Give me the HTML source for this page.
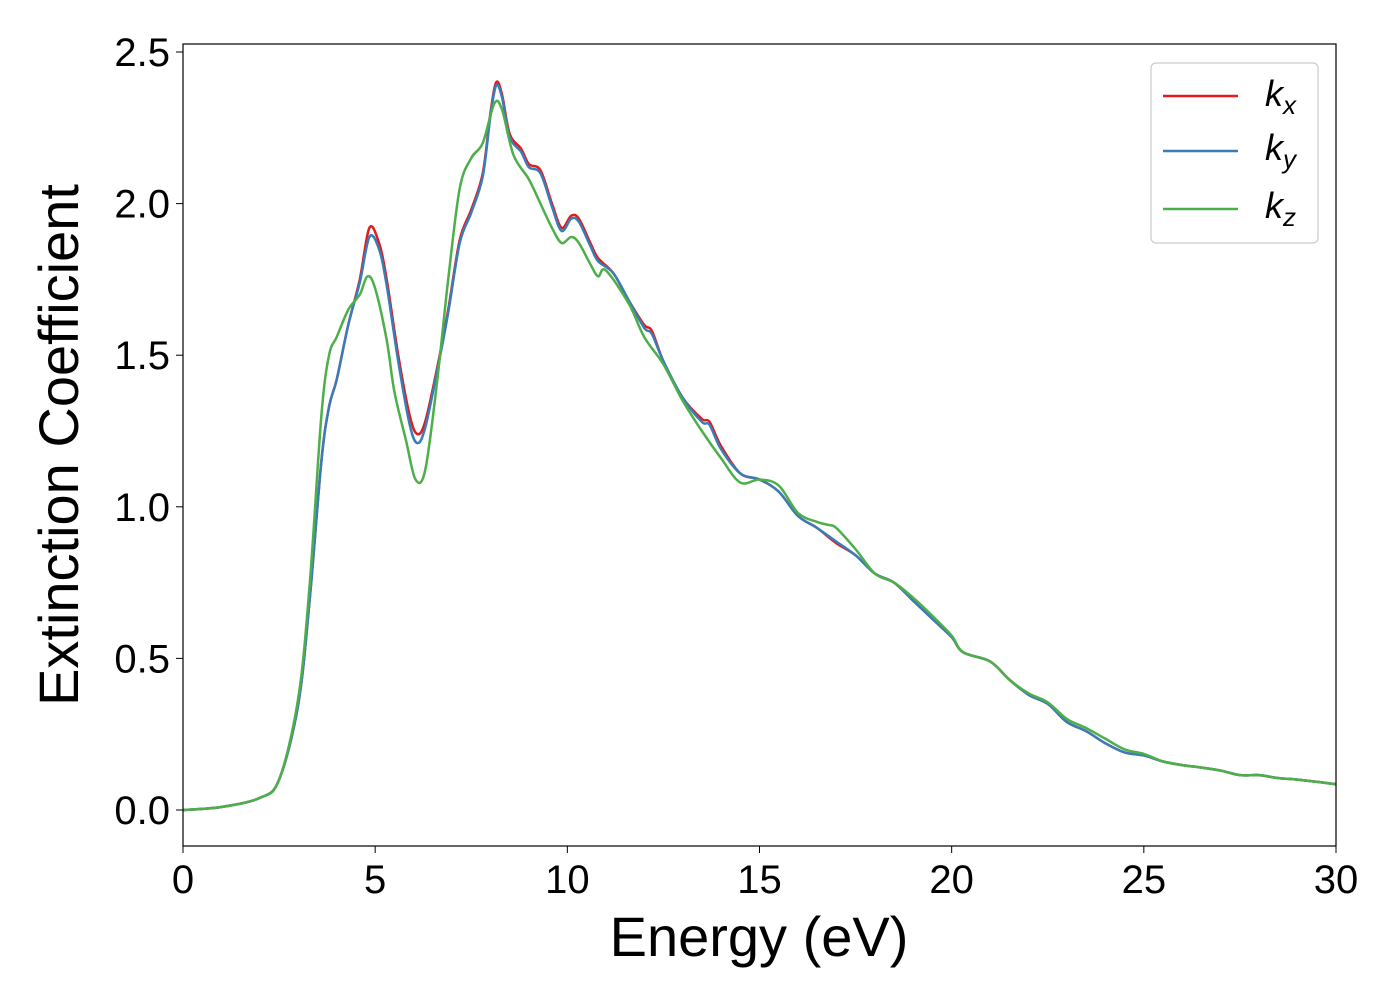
<!DOCTYPE html>
<html><head><meta charset="utf-8"><style>
body{margin:0;background:#fff;}
svg text{font-family:"Liberation Sans","DejaVu Sans",sans-serif;fill:#000;}
</style></head><body>
<svg id="chart" width="1400" height="1000" xmlns="http://www.w3.org/2000/svg">
<rect x="0" y="0" width="1400" height="1000" fill="#fff"/>
<g id="plot"></g>
<rect x="183" y="44" width="1153" height="802" fill="none" stroke="#000" stroke-width="1.2"/>
<g id="xticks"></g><g id="yticks"></g>
<text x="759" y="956" font-size="56" text-anchor="middle">Energy (eV)</text>
<text transform="translate(78,445) rotate(-90)" font-size="56" text-anchor="middle">Extinction Coefficient</text>
<g>
<rect x="1151" y="63" width="167" height="180" rx="5" fill="#fff" stroke="#ccc" stroke-width="1.2"/>
<line x1="1163" x2="1238" y1="96" y2="96" stroke="#e41a1c" stroke-width="2.5"/>
<line x1="1163" x2="1238" y1="151" y2="151" stroke="#377eb8" stroke-width="2.5"/>
<line x1="1163" x2="1238" y1="209" y2="209" stroke="#4daf4a" stroke-width="2.5"/>
<text x="1265" y="106" font-size="36" font-style="italic">k<tspan font-size="26" dy="8">x</tspan></text>
<text x="1265" y="160" font-size="36" font-style="italic">k<tspan font-size="26" dy="8">y</tspan></text>
<text x="1265" y="218" font-size="36" font-style="italic">k<tspan font-size="26" dy="8">z</tspan></text>
</g>
</svg>
<script>
const xTicks=[0,5,10,15,20,25,30];
const yTicks=[0.0,0.5,1.0,1.5,2.0,2.5];
const kxE=[0,1,2,2.5,3,3.3,3.6,3.8,4.0,4.3,4.6,4.85,5.1,5.3,5.6,5.9,6.1,6.3,6.6,6.9,7.2,7.5,7.8,8.0,8.15,8.3,8.5,8.8,9.0,9.3,9.6,9.85,10.1,10.3,10.6,10.8,11.2,11.6,12,12.2,12.5,13,13.5,13.7,14,14.5,15,15.5,16,16.5,17,17.5,18,18.5,19,19.5,20,20.3,21,21.5,22,22.5,23,23.5,24,24.5,25,25.5,26,26.5,27,27.5,28,28.5,29,30];
const kxV=[0,0.01,0.04,0.1,0.35,0.7,1.15,1.33,1.42,1.6,1.75,1.92,1.87,1.75,1.5,1.3,1.24,1.28,1.45,1.65,1.88,1.98,2.1,2.3,2.40,2.36,2.23,2.18,2.13,2.11,2.0,1.92,1.96,1.95,1.87,1.82,1.77,1.68,1.6,1.58,1.48,1.36,1.29,1.28,1.2,1.11,1.09,1.05,0.97,0.93,0.88,0.84,0.78,0.75,0.69,0.63,0.57,0.52,0.49,0.43,0.38,0.35,0.29,0.26,0.22,0.19,0.18,0.16,0.148,0.14,0.13,0.115,0.115,0.105,0.10,0.085];
const kyV=[0,0.01,0.04,0.1,0.35,0.7,1.15,1.33,1.42,1.6,1.74,1.89,1.85,1.73,1.48,1.27,1.21,1.26,1.44,1.64,1.87,1.97,2.09,2.29,2.39,2.35,2.22,2.17,2.12,2.10,1.99,1.91,1.95,1.94,1.86,1.81,1.77,1.68,1.59,1.57,1.48,1.36,1.28,1.27,1.19,1.11,1.09,1.05,0.97,0.93,0.885,0.84,0.78,0.75,0.69,0.63,0.57,0.52,0.49,0.43,0.38,0.35,0.29,0.26,0.22,0.19,0.18,0.16,0.148,0.14,0.13,0.115,0.115,0.105,0.10,0.085];
const kzE=[0,1,2,2.5,3,3.3,3.6,3.8,4.0,4.3,4.6,4.8,5.0,5.3,5.5,5.8,6.05,6.3,6.6,6.9,7.2,7.5,7.8,8.1,8.3,8.6,9.0,9.3,9.6,9.85,10.1,10.3,10.6,10.8,11.0,11.6,12,12.5,13,13.5,14,14.5,15,15.5,16,16.5,16.8,17,17.5,18,18.5,19,19.5,20,20.3,21,21.5,22,22.5,23,23.5,24,24.5,25,25.5,26,26.5,27,27.5,28,28.5,29,30];
const kzV=[0,0.01,0.04,0.1,0.37,0.75,1.3,1.5,1.56,1.65,1.7,1.76,1.72,1.55,1.38,1.22,1.09,1.12,1.4,1.75,2.05,2.15,2.2,2.33,2.31,2.16,2.08,2.0,1.92,1.87,1.89,1.87,1.8,1.76,1.78,1.67,1.56,1.47,1.35,1.25,1.16,1.08,1.09,1.07,0.98,0.95,0.94,0.93,0.86,0.78,0.75,0.7,0.64,0.575,0.52,0.49,0.43,0.385,0.355,0.3,0.27,0.235,0.2,0.185,0.16,0.148,0.14,0.13,0.115,0.115,0.105,0.10,0.085];
const X=v=>183+v*(1153/30);
const Y=v=>810-v*303.2;
const NS="http://www.w3.org/2000/svg";
function path(E,V){
  const p=E.map((e,i)=>[X(e),Y(V[i])]);
  let d="M"+p[0][0]+","+p[0][1];
  for(let i=0;i<p.length-1;i++){
    const a=p[Math.max(i-1,0)],b=p[i],c=p[i+1],e=p[Math.min(i+2,p.length-1)];
    d+=" C"+(b[0]+(c[0]-a[0])/6)+","+(b[1]+(c[1]-a[1])/6)+" "+(c[0]-(e[0]-b[0])/6)+","+(c[1]-(e[1]-b[1])/6)+" "+c[0]+","+c[1];
  }
  return d;
}
const plot=document.getElementById('plot');
[["kx",kxE,kxV,"#e41a1c"],["ky",kxE,kyV,"#377eb8"],["kz",kzE,kzV,"#4daf4a"]].forEach(s=>{
  const el=document.createElementNS(NS,'path');
  
  
  el.setAttribute('d',path(s[1],s[2]));
  el.setAttribute('fill','none');el.setAttribute('stroke',s[3]);el.setAttribute('stroke-width','2.5');
  plot.appendChild(el);
});
const xt=document.getElementById('xticks');
xTicks.forEach(t=>{
  const l=document.createElementNS(NS,'line');
  
  
  l.setAttribute('x1',X(t));l.setAttribute('x2',X(t));l.setAttribute('y1',846);l.setAttribute('y2',853);l.setAttribute('stroke','#000');
  xt.appendChild(l);
  const tx=document.createElementNS(NS,'text');
  
  
  tx.setAttribute('x',X(t));tx.setAttribute('y',893);tx.setAttribute('font-size','40');tx.setAttribute('text-anchor','middle');
  tx.textContent=t;xt.appendChild(tx);
});
const yt=document.getElementById('yticks');
yTicks.forEach(t=>{
  const l=document.createElementNS(NS,'line');
  
  
  l.setAttribute('x1',176);l.setAttribute('x2',183);l.setAttribute('y1',Y(t));l.setAttribute('y2',Y(t));l.setAttribute('stroke','#000');
  yt.appendChild(l);
  const tx=document.createElementNS(NS,'text');
  
  
  tx.setAttribute('x',170);tx.setAttribute('y',Y(t)+14);tx.setAttribute('font-size','40');tx.setAttribute('text-anchor','end');
  tx.textContent=t.toFixed(1);yt.appendChild(tx);
});
</script>
</body></html>
